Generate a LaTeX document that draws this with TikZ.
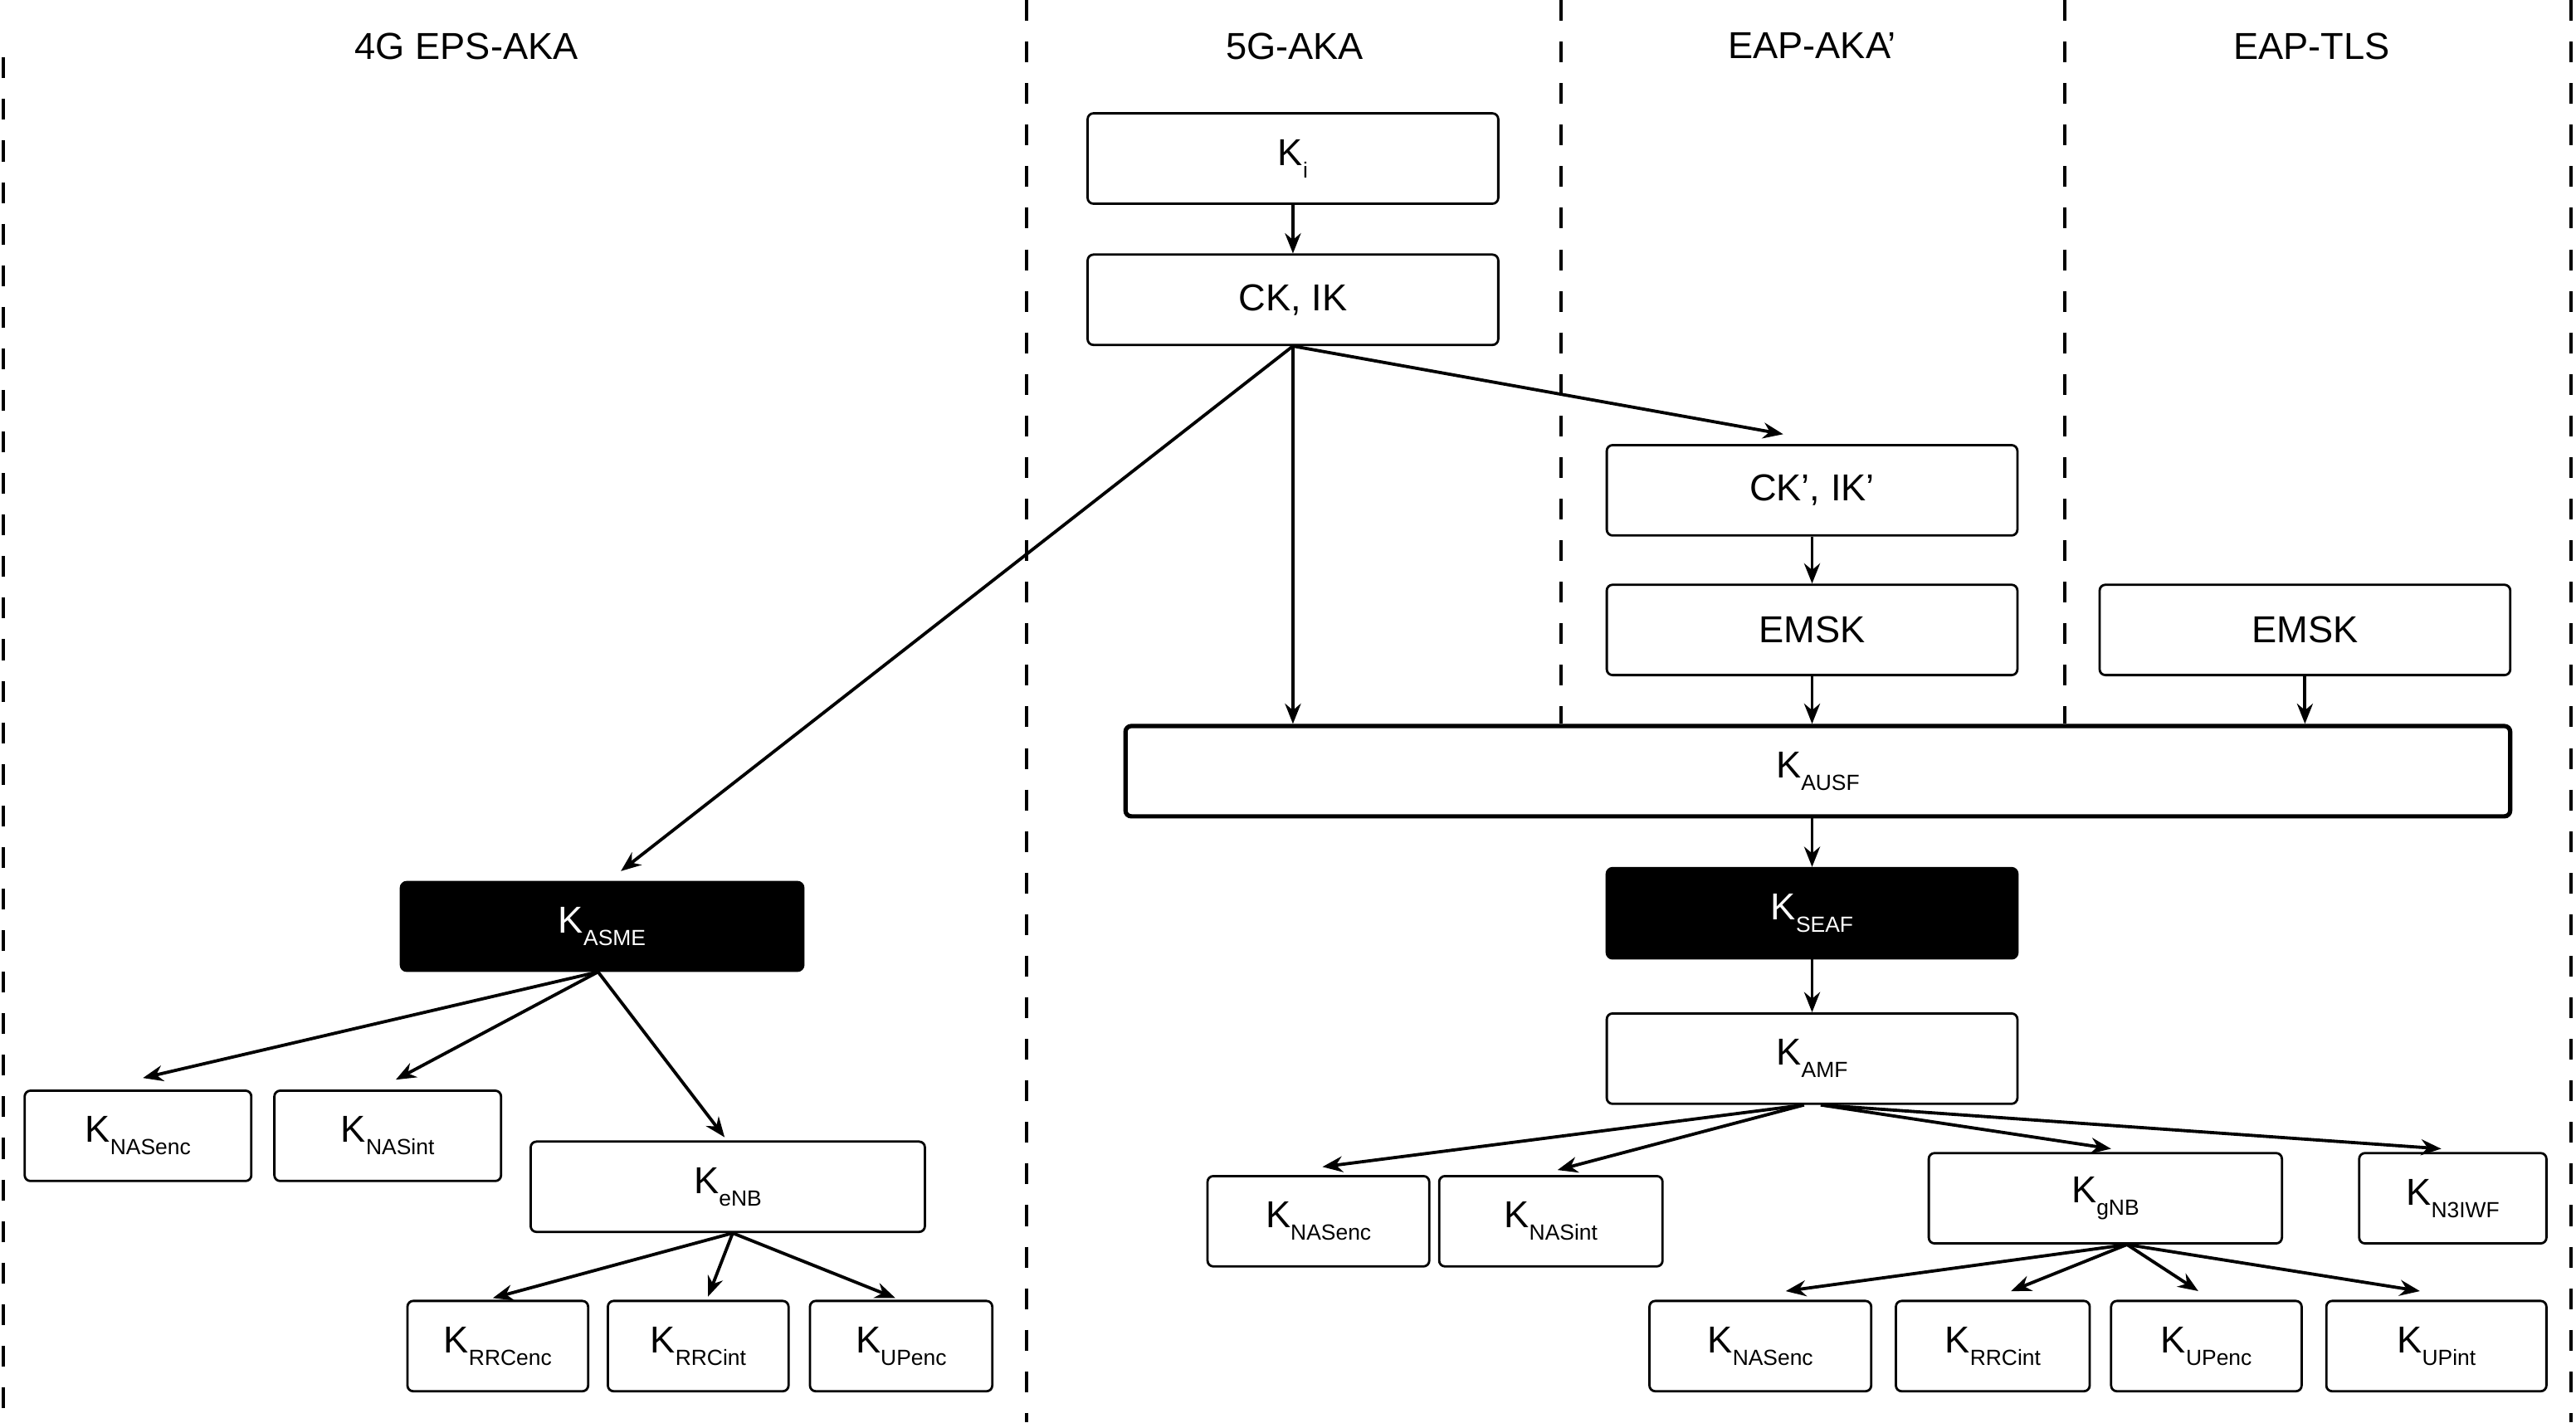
\documentclass[tikz,border=0pt]{standalone}
\usepackage{fontspec}
\setmainfont{Liberation Sans}
\usetikzlibrary{arrows.meta}

\newcommand{\kname}[1]{K\raisebox{-4.3pt}{\fontsize{7.6}{8.6}\selectfont #1}}

\begin{document}
\begin{tikzpicture}[x=0.02cm, y=-0.02cm,
    key/.style={draw, line width=0.8pt, rounded corners=2pt, minimum height=1.1cm, inner sep=0pt, font=\fontsize{13}{15}\selectfont},
    darkkey/.style={key, fill=black, text=white},
    derive/.style={-{Stealth[length=7pt,width=5.5pt]}, line width=1.1pt},
    divider/.style={dash pattern=on 7.2pt off 7.2pt, line width=1.2pt},
    title/.style={font=\fontsize{13}{15}\selectfont}]
    \useasboundingbox (0,0) rectangle (1568,866);

    % column titles
    \node[title] (title 4g) at (284,28) {4G EPS-AKA};
    \node[title] (title 5g) at (788,28) {5G-AKA};
    \node[title] (title eap aka) at (1103,28) {EAP-AKA’};
    \node[title] (title eap tls) at (1407,28) {EAP-TLS};

    % 5G-AKA / EAP chain
    \node[key, minimum width=5cm] (ki) at (787,96.5) {\kname{i}};
    \node[key, minimum width=5cm] (ckik) at (787,182.5) {CK, IK};
    \node[key, minimum width=5cm] (ckpik) at (1103,298.5) {CK’, IK’};
    \node[key, minimum width=5cm] (emsk aka) at (1103,383.5) {EMSK};
    \node[key, minimum width=5cm] (emsk tls) at (1403,383.5) {EMSK};
    \node[key, minimum width=16.86cm, line width=1.5pt] (kausf) at (1106.5,469.5) {\kname{AUSF}};
    \node[darkkey, minimum width=5cm] (kseaf) at (1103,556) {\kname{SEAF}};
    \node[key, minimum width=5cm] (kamf) at (1103,644.5) {\kname{AMF}};

    \node[key, minimum width=2.7cm] (nasenc 5g) at (802.5,743.5) {\kname{NASenc}};
    \node[key, minimum width=2.72cm] (nasint 5g) at (944,743.5) {\kname{NASint}};
    \node[key, minimum width=4.3cm] (kgnb) at (1281.5,729.5) {\kname{gNB}};
    \node[key, minimum width=2.28cm] (kn3iwf) at (1493,729.5) {\kname{N3IWF}};

    \node[key, minimum width=2.7cm] (nasenc gnb) at (1071.5,819.5) {\kname{NASenc}};
    \node[key, minimum width=2.36cm] (rrcint gnb) at (1213,819.5) {\kname{RRCint}};
    \node[key, minimum width=2.32cm] (upenc gnb) at (1343,819.5) {\kname{UPenc}};
    \node[key, minimum width=2.68cm] (upint gnb) at (1483,819.5) {\kname{UPint}};

    % 4G EPS-AKA
    \node[darkkey, minimum width=4.9cm, minimum height=1.08cm] (kasme) at (366.5,564) {\kname{ASME}};
    \node[key, minimum width=2.76cm] (nasenc 4g) at (84,691.5) {\kname{NASenc}};
    \node[key, minimum width=2.76cm] (nasint 4g) at (236,691.5) {\kname{NASint}};
    \node[key, minimum width=4.8cm] (kenb) at (443,722.5) {\kname{eNB}};
    \node[key, minimum width=2.2cm] (rrcenc 4g) at (303,819.5) {\kname{RRCenc}};
    \node[key, minimum width=2.2cm] (rrcint 4g) at (425,819.5) {\kname{RRCint}};
    \node[key, minimum width=2.22cm] (upenc 4g) at (548.5,819.5) {\kname{UPenc}};

    % dashed column borders
    \draw[divider] (2,35) -- (2,866);
    \draw[divider] (625,0) -- (625,866);
    \draw[divider] (950,0) -- (950,0 |- kausf.north);
    \draw[divider] (1257,0) -- (1257,0 |- kausf.north);
    \draw[divider] (1565,0) -- (1565,866);

    \draw[derive] (ki) -- (ckik);
    \draw[derive] (ckik.south) -- ([xshift=6.5pt,yshift=3.4pt]kasme.north);
    \draw[derive] (ckik.south) -- (ckik.south |- kausf.north);
    \draw[derive] (ckik.south) -- ([xshift=-10pt,yshift=3.4pt]ckpik.north);
    \draw[derive] (ckpik) -- (emsk aka);
    \draw[derive] (emsk aka) -- (emsk aka.south |- kausf.north);
    \draw[derive] (emsk tls) -- (emsk tls.south |- kausf.north);
    \draw[derive] (kseaf.north |- kausf.south) -- (kseaf);
    \draw[derive] (kseaf) -- (kamf);

    \draw[derive] ([xshift=-2.8pt]kamf.south) -- ([xshift=1.4pt,yshift=2.8pt]nasenc 5g.north);
    \draw[derive] ([xshift=-2.8pt]kamf.south) -- ([xshift=2.3pt,yshift=1.7pt]nasint 5g.north);
    \draw[derive] ([xshift=3pt]kamf.south) -- ([xshift=2pt,yshift=1.1pt]kgnb.north);
    \draw[derive] ([xshift=3pt]kamf.south) -- ([xshift=-4pt,yshift=1.1pt]kn3iwf.north);

    \draw[derive] ([xshift=7.5pt]kgnb.south) -- ([xshift=8.8pt,yshift=3pt]nasenc gnb.north);
    \draw[derive] ([xshift=7.5pt]kgnb.south) -- ([xshift=6.3pt,yshift=3pt]rrcint gnb.north);
    \draw[derive] ([xshift=7.5pt]kgnb.south) -- ([xshift=-2.8pt,yshift=3pt]upenc gnb.north);
    \draw[derive] ([xshift=7.5pt]kgnb.south) -- ([xshift=-5.7pt,yshift=3pt]upint gnb.north);

    \draw[derive] ([xshift=-1.4pt]kasme.south) -- ([xshift=1.7pt,yshift=4pt]nasenc 4g.north);
    \draw[derive] ([xshift=-1.4pt]kasme.south) -- ([xshift=2.8pt,yshift=3.4pt]nasint 4g.north);
    \draw[derive] ([xshift=-1.4pt]kasme.south) -- ([xshift=-1.1pt,yshift=1.1pt]kenb.north);

    \draw[derive] ([xshift=1.7pt]kenb.south) -- ([xshift=-1.7pt,yshift=0.6pt]rrcenc 4g.north);
    \draw[derive] ([xshift=1.7pt]kenb.south) -- ([xshift=3.4pt,yshift=1.1pt]rrcint 4g.north);
    \draw[derive] ([xshift=1.7pt]kenb.south) -- ([xshift=-2pt,yshift=0.6pt]upenc 4g.north);
\end{tikzpicture}
\end{document}
